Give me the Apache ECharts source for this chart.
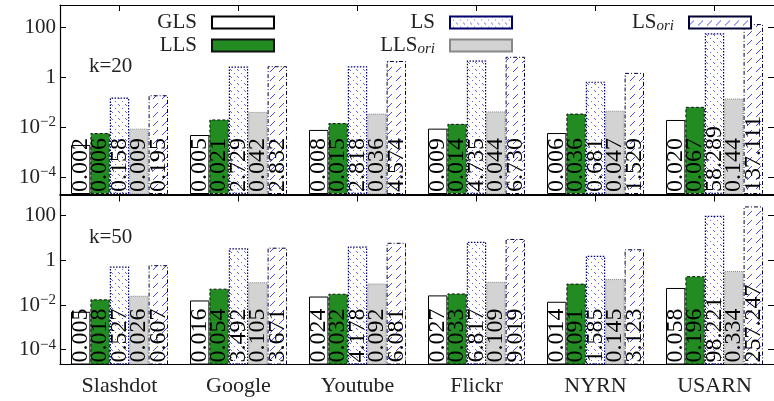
<!DOCTYPE html>
<html>
<head>
<meta charset="utf-8">
<script src="https://cdn.jsdelivr.net/npm/echarts@6/dist/echarts.min.js"></script>
<style>
html, body { margin: 0; padding: 0; background: #fff; }
#chart { width: 774px; height: 401px; }
</style>
</head>
<body>
<div id="chart"></div>
<script>
var categories = ['Slashdot', 'Google', 'Youtube', 'Flickr', 'NYRN', 'USARN'];
var seriesNames = ['GLS', 'LLS', 'LS', 'LLS_ori', 'LS_ori'];

// k=20
var glsK20 = [0.002, 0.005, 0.008, 0.009, 0.006, 0.020];
var llsK20 = [0.006, 0.021, 0.015, 0.014, 0.036, 0.067];
var lsK20 = [0.158, 2.729, 2.818, 4.735, 0.681, 58.289];
var llsOriK20 = [0.009, 0.042, 0.036, 0.044, 0.047, 0.144];
var lsOriK20 = [0.195, 2.832, 4.574, 6.730, 1.529, 137.111];

// k=50
var glsK50 = [0.005, 0.016, 0.024, 0.027, 0.014, 0.058];
var llsK50 = [0.018, 0.054, 0.032, 0.033, 0.091, 0.196];
var lsK50 = [0.527, 3.492, 4.178, 6.817, 1.585, 98.221];
var llsOriK50 = [0.026, 0.105, 0.092, 0.109, 0.145, 0.334];
var lsOriK50 = [0.607, 3.671, 6.081, 9.019, 3.123, 257.247];

var yTickValues = [-4, -2, 0, 2];   // log10 of 1e-4, 1e-2, 1, 100
var yTickLabels = ['10{sup|\u22124}', '10{sup|\u22122}', '1', '100'];

var FONT = 'Liberation Serif';
var LOG_MIN = -4.66;
var LOG_MAX = 2.9;

var dom = document.getElementById('chart');
var myChart = echarts.init(dom, null, { renderer: 'canvas' });

// hatch fills
function makePattern(kind) {
	var s = kind === 'dot' ? 7 : 9;
	var c = document.createElement('canvas');
	c.width = s; c.height = s;
	var g = c.getContext('2d');
	g.fillStyle = '#fff';
	g.fillRect(0, 0, s, s);
	g.fillStyle = kind === 'dot' ? 'rgba(40,40,220,0.7)' : 'rgba(30,30,235,0.8)';
	for (var k = 0; k < s; k++) {
		if (kind === 'dot') {
			if (k % 3 === 0) g.fillRect(k, k, 1, 1);
		} else {
			if (k < 5) g.fillRect(k, s - 1 - k, 1, 1);
		}
	}
	return { image: c, repeat: 'repeat' };
}

var styles = [
	{ color: '#fff', borderColor: '#000', borderWidth: 1, borderType: 'solid' },
	{ color: '#228b22', borderColor: '#111', borderWidth: 1, borderType: [3, 2] },
	{ color: makePattern('dot'), borderColor: '#00006e', borderWidth: 1.2, borderType: [1.5, 1.5] },
	{ color: '#d3d3d3', borderColor: '#888', borderWidth: 1, borderType: [1, 1] },
	{ color: makePattern('dash'), borderColor: '#000033', borderWidth: 1, borderType: [4, 2, 1, 2] }
];

function buildSeries(panel, arrays) {
	return arrays.map(function (arr, i) {
		return {
			name: seriesNames[i],
			type: 'bar',
			xAxisIndex: panel * 2,
			yAxisIndex: panel * 2,
			barWidth: 19.4,
			barGap: '0%',
			data: arr.map(function (v) { return Math.log10(v); }),
			itemStyle: styles[i],
			emphasis: { disabled: true },
			label: {
				show: true,
				position: 'insideBottom',
				rotate: 90,
				align: 'left',
				verticalAlign: 'middle',
				distance: 2,
				fontFamily: FONT,
				fontSize: 24,
				color: '#000',
				formatter: function (p) { return arr[p.dataIndex].toFixed(3); }
			}
		};
	});
}

function xAxisFor(grid, pos, labels) {
	return {
		type: 'category',
		gridIndex: grid,
		position: pos,
		data: categories,
		axisLine: { show: true, onZero: false, lineStyle: { color: '#000', width: 1.2 } },
		axisTick: { show: true, inside: true, alignWithLabel: true, length: 6, lineStyle: { color: '#000' } },
		axisLabel: { show: labels, margin: 11, fontFamily: FONT, fontSize: 22, color: '#222' },
		splitLine: { show: false }
	};
}

function yAxisFor(grid, pos, labels) {
	return {
		type: 'value',
		gridIndex: grid,
		position: pos,
		min: LOG_MIN,
		max: LOG_MAX,
		startValue: LOG_MIN,
		splitNumber: 4,
		axisLine: { show: pos === 'left', onZero: false, lineStyle: { color: '#000', width: 1.2 } },
		axisTick: { show: true, inside: true, length: 6, lineStyle: { color: '#000' } },
		axisLabel: {
			show: labels,
			showMinLabel: false,
			showMaxLabel: false,
			margin: 4,
			fontFamily: FONT,
			fontSize: 21,
			color: '#222',
			formatter: function (v) {
				var idx = yTickValues.indexOf(Math.round(v * 100) / 100);
				return idx < 0 ? '' : yTickLabels[idx];
			},
			rich: {
				sup: { fontFamily: FONT, fontSize: 15, color: '#222', padding: [0, 0, 10, 0] }
			}
		},
		splitLine: { show: false }
	};
}

function legendFor(name, right, top) {
	return {
		data: [name],
		right: right,
		top: top,
		padding: 0,
		align: 'right',
		icon: 'rect',
		itemWidth: 62,
		itemHeight: 12,
		selectedMode: false,
		formatter: function (n) { return n.replace('_ori', '{s|ori}'); },
		textStyle: {
			fontFamily: FONT,
			fontSize: 21,
			color: '#222',
			padding: [0, 10, 0, 0],
			rich: { s: { fontFamily: FONT, fontSize: 15, fontStyle: 'italic', color: '#222', padding: [8, 0, 0, 0] } }
		}
	};
}

var option = {
	animation: false,
	backgroundColor: '#fff',
	title: [
		{ text: 'k=20', left: 89, top: 56, padding: 0, textStyle: { fontFamily: FONT, fontSize: 21, fontWeight: 'normal', color: '#222' } },
		{ text: 'k=50', left: 89, top: 227, padding: 0, textStyle: { fontFamily: FONT, fontSize: 21, fontWeight: 'normal', color: '#222' } }
	],
	legend: [
		legendFor('GLS', 499, 12),
		legendFor('LLS', 499, 35),
		legendFor('LS', 261, 12),
		legendFor('LLS_ori', 261, 35),
		legendFor('LS_ori', 22, 12)
	],
	grid: [
		{ left: 60, top: 5, width: 720, height: 189 },
		{ left: 60, top: 195.5, width: 720, height: 169 }
	],
	xAxis: [
		xAxisFor(0, 'bottom', false),
		xAxisFor(0, 'top', false),
		xAxisFor(1, 'bottom', true),
		xAxisFor(1, 'top', false)
	],
	yAxis: [
		yAxisFor(0, 'left', true),
		yAxisFor(0, 'right', false),
		yAxisFor(1, 'left', true),
		yAxisFor(1, 'right', false)
	],
	series: buildSeries(0, [glsK20, llsK20, lsK20, llsOriK20, lsOriK20])
		.concat(buildSeries(1, [glsK50, llsK50, lsK50, llsOriK50, lsOriK50]))
};

myChart.setOption(option, true);
</script>
</body>
</html>
